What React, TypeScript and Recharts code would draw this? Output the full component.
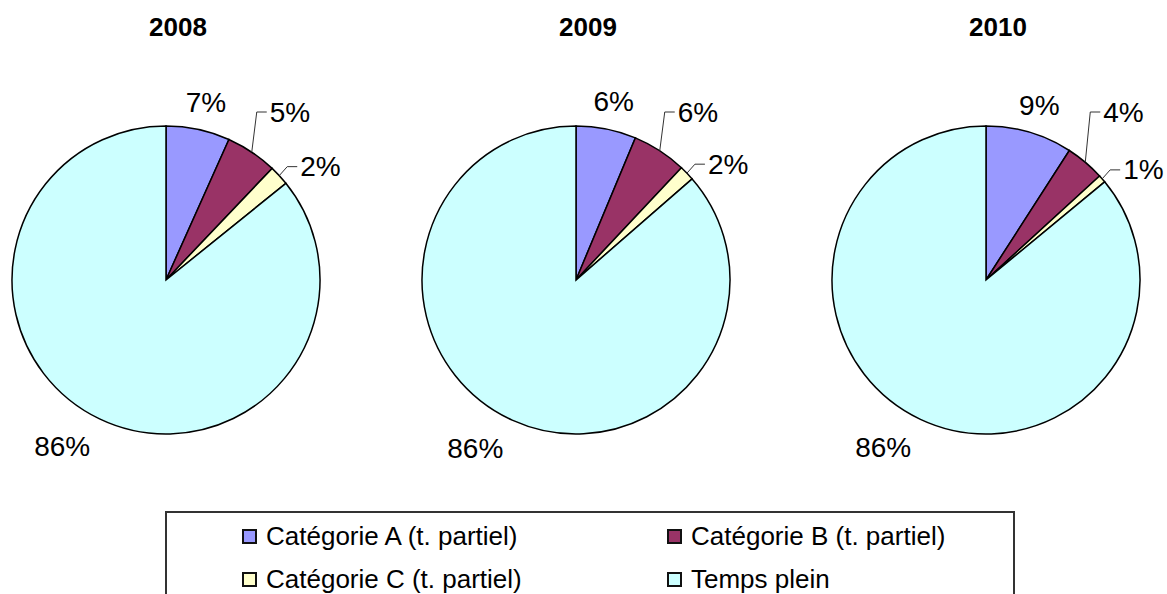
import React from 'react';
import { PieChart, Pie, Cell, Legend } from 'recharts';

const categories = [
  'Catégorie A (t. partiel)',
  'Catégorie B (t. partiel)',
  'Catégorie C (t. partiel)',
  'Temps plein',
];
const years = ['2008', '2009', '2010'];
const values2008 = [6.7, 5.4, 2.1, 85.8];
const values2009 = [6.3, 5.7, 1.6, 86.4];
const values2010 = [9.1, 4.1, 0.8, 86.0];
const colors = ['#9999FF', '#993366', '#FFFFCC', '#CCFFFF'];

const font = '"Liberation Sans", Arial, sans-serif';
const W = 1167;
const H = 594;
const R = 154;
const centers = [166, 576, 986];

const series = [values2008, values2009, values2010].map((vals) =>
  vals.map((v, i) => ({ name: categories[i], value: v }))
);

const RAD = Math.PI / 180;

const renderLabel = (p: any) => {
  const { cx, cy, midAngle, outerRadius, index, value } = p;
  const cos = Math.cos(-midAngle * RAD);
  const sin = Math.sin(-midAngle * RAD);
  const text = `${Math.round(value)}%`;
  const style = { fontFamily: font, fontSize: 28, fill: '#000' };
  if (index === 0 || index === 3) {
    const r = outerRadius + (index === 0 ? 28 : 31);
    const x = cx + r * cos;
    const y = cy + r * sin;
    return (
      <text
        x={index === 0 ? x + 2 : x + 4}
        y={y}
        textAnchor={index === 0 ? 'middle' : 'end'}
        dominantBaseline="central"
        style={style}
      >
        {text}
      </text>
    );
  }
  // small slices get a leader line with an elbow
  const sx = cx + outerRadius * cos;
  const sy = cy + outerRadius * sin;
  const ex = sx + (index === 1 ? 5 : 8);
  const ey = index === 1 ? cy - outerRadius - 14 : sy - 9;
  return (
    <g>
      <polyline
        points={`${sx},${sy} ${ex},${ey} ${ex + 10},${ey}`}
        stroke="#333"
        strokeWidth={1}
        fill="none"
      />
      <text x={ex + 13} y={ey} dominantBaseline="central" style={style}>
        {text}
      </text>
    </g>
  );
};

const renderLegend = () => (
  <div
    style={{
      position: 'relative',
      width: 850,
      height: 110,
      border: '2px solid #333',
      boxSizing: 'border-box',
      background: '#fff',
    }}
  >
    {categories.map((c, i) => (
      <div
        key={c}
        style={{
          position: 'absolute',
          left: i % 2 === 0 ? 75 : 500,
          top: (i < 2 ? 23 : 66) - 17,
          height: 34,
          display: 'flex',
          alignItems: 'center',
          fontFamily: font,
          fontSize: 26,
          color: '#000',
          whiteSpace: 'nowrap',
        }}
      >
        <span
          style={{
            display: 'inline-block',
            width: 11,
            height: 11,
            background: colors[i],
            border: '2px solid #111',
            marginRight: 9,
          }}
        />
        {c}
      </div>
    ))}
  </div>
);

export default function App() {
  return (
    <div
      style={{
        position: 'absolute',
        left: 0,
        top: 0,
        width: W,
        height: H,
        background: '#fff',
        overflow: 'hidden',
      }}
    >
      {years.map((y, k) => (
        <div
          key={y}
          style={{
            position: 'absolute',
            left: centers[k] + 12 - 60,
            width: 120,
            top: 12,
            lineHeight: '30px',
            textAlign: 'center',
            fontFamily: font,
            fontWeight: 'bold',
            fontSize: 26,
          }}
        >
          {y}
        </div>
      ))}
      <PieChart width={W} height={H} margin={{ top: 0, right: 0, bottom: 0, left: 0 }}>
        {series.map((data, k) => (
          <Pie
            key={years[k]}
            data={data}
            dataKey="value"
            nameKey="name"
            cx={centers[k]}
            cy={280}
            outerRadius={R}
            startAngle={90}
            endAngle={-270}
            stroke="#000"
            strokeWidth={1.5}
            label={renderLabel}
            labelLine={false}
            isAnimationActive={false}
          >
            {data.map((d, i) => (
              <Cell key={d.name} fill={colors[i]} />
            ))}
          </Pie>
        ))}
        <Legend
          content={renderLegend}
          verticalAlign="bottom"
          wrapperStyle={{ left: 165, top: 511, width: 850, bottom: 'auto' }}
        />
      </PieChart>
    </div>
  );
}
